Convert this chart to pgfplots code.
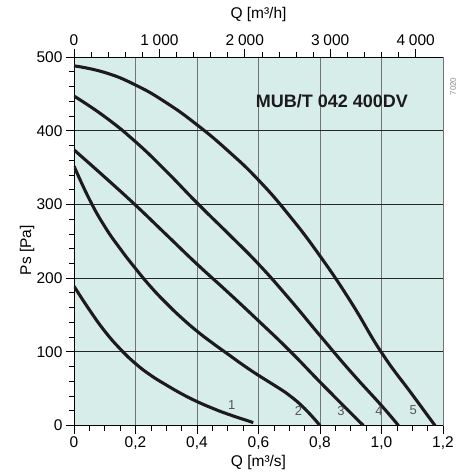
\documentclass[border=0pt]{standalone}
\usepackage{fontspec}
\setmainfont{Liberation Sans}
\usepackage{pgfplots}
\pgfplotsset{compat=1.18}

\definecolor{panel}{RGB}{214,237,234}
\definecolor{ink}{RGB}{28,26,26}
\definecolor{lbl}{RGB}{85,85,85}

\newcommand{\tickfont}{\fontsize{15.5bp}{18bp}\selectfont}
\newcommand{\ths}{\hspace{0.24em}}

\begin{document}
\begin{tikzpicture}
\useasboundingbox (-74bp,-50.5bp) rectangle (383bp,425.5bp);

% main axis: Q in m3/s, Ps in Pa
\begin{axis}[
  at={(0,0)}, anchor=south west,
  scale only axis, width=369bp, height=368.5bp,
  xmin=0, xmax=1.2, ymin=0, ymax=500,
  axis lines*=left,
  axis line style={-, line width=0.8pt, black},
  axis background/.style={fill=panel},
  xtick={0,0.2,0.4,0.6,0.8,1.0,1.2},
  xticklabels={0,{0,2},{0,4},{0,6},{0,8},{1,0},{1,2}},
  minor x tick num=3,
  ytick={0,100,200,300,400,500},
  yticklabels={0,100,200,300,400,500},
  minor y tick num=4,
  tick align=outside,
  major tick length=8bp, minor tick length=5bp,
  tick style={black, line width=0.7pt},
  ticklabel style={font=\tickfont, black},
  grid=major,
  major grid style={line width=0.9pt},
  every axis x grid/.style={black!55},
  every axis y grid/.style={black!85},
  xlabel={Q [m³/s]}, ylabel={Ps [Pa]},
  label style={font=\tickfont},
  every axis x label/.append style={at={(axis description cs:0.5,-0.101)}, anchor=center},
  every axis y label/.append style={at={(axis description cs:-0.127,0.476)}, anchor=center},
  fan/.style={ink, line width=3.1pt, smooth, tension=0.8},
  clip=true,
]
% 1
\addplot[fan] coordinates {
  (0,189) (0.05,157) (0.1,128) (0.15,104) (0.2,84) (0.25,68) (0.3,55) (0.35,43)
  (0.4,32.5) (0.45,23.5) (0.5,15.5) (0.583,4)
};
% 2
\addplot[fan] coordinates {
  (0,352) (0.05,307) (0.1,270) (0.15,240) (0.2,213) (0.25,188) (0.3,166) (0.35,146)
  (0.4,128) (0.45,112) (0.5,97) (0.55,82) (0.6,68) (0.65,55) (0.7,41) (0.75,23) (0.8,0)
};
% 3
\addplot[fan] coordinates {
  (0,374) (0.1,337) (0.2,299) (0.3,259) (0.4,219) (0.5,181) (0.6,142) (0.7,102)
  (0.8,59) (0.9,17) (0.941,0)
};
% 4
\addplot[fan] coordinates {
  (0,447) (0.1,419) (0.2,385) (0.3,345) (0.4,302) (0.5,261) (0.6,219) (0.7,172)
  (0.8,122) (0.9,73) (1.0,27) (1.055,0)
};
% 5
\addplot[fan] coordinates {
  (0,488) (0.1,479) (0.2,462) (0.3,438) (0.4,408) (0.5,373) (0.6,333) (0.7,285)
  (0.8,230) (0.9,168) (1.0,99) (1.1,42) (1.174,0)
};
\node[font=\fontsize{13bp}{15bp}\selectfont, lbl] at (axis cs:0.513,28) {1};
\node[font=\fontsize{13bp}{15bp}\selectfont, lbl] at (axis cs:0.73,20) {2};
\node[font=\fontsize{13bp}{15bp}\selectfont, lbl] at (axis cs:0.868,20) {3};
\node[font=\fontsize{13bp}{15bp}\selectfont, lbl] at (axis cs:0.992,20) {4};
\node[font=\fontsize{13bp}{15bp}\selectfont, lbl] at (axis cs:1.103,21) {5};
\node[font=\fontsize{18bp}{21bp}\selectfont\bfseries, ink] at (axis cs:0.839,440) {MUB/T 042 400DV};
\end{axis}

% top axis: Q in m3/h
\begin{axis}[
  at={(0,0)}, anchor=south west,
  scale only axis, width=369bp, height=368.5bp,
  xmin=0, xmax=4320, ymin=0, ymax=500,
  axis x line*=top, axis y line=none,
  axis line style={-, line width=0.8pt, black},
  xtick={0,1000,2000,3000,4000},
  xticklabels={0,1\ths000,2\ths000,3\ths000,4\ths000},
  minor x tick num=4,
  tick align=outside,
  major tick length=8bp, minor tick length=5bp,
  tick style={black, line width=0.7pt},
  ticklabel style={font=\tickfont, black},
  xlabel={Q [m³/h]},
  label style={font=\tickfont},
  every axis x label/.append style={at={(axis description cs:0.5,1.114)}, anchor=center},
  clip=false,
]
\addplot[draw=none] coordinates {(0,0)};
\node[font=\fontsize{8bp}{9bp}\selectfont, black!45, rotate=90] at (axis cs:4439,460) {7020};
\end{axis}
\end{tikzpicture}
\end{document}
